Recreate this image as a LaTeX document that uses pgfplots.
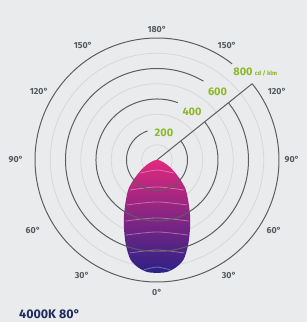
\documentclass[border=0pt]{standalone}
\usepackage{pgfplots}
\pgfplotsset{compat=1.18}
\usepackage{fontspec}
\setmainfont{Fira Sans}
\definecolor{bg}{HTML}{E9EBED}
\definecolor{ring}{HTML}{5C5E60}
\definecolor{lring}{HTML}{D6D8DA}
\definecolor{grn}{HTML}{8CB828}
\definecolor{lab}{HTML}{55595D}
\definecolor{navy}{HTML}{1F2A5E}
\definecolor{mag}{HTML}{E2287E}
\definecolor{mid}{HTML}{A52A8C}
\definecolor{ind}{HTML}{2A2286}
\begin{document}
\begin{tikzpicture}[x=1pt,y=1pt]
\useasboundingbox (0,0) rectangle (307,322);
\clip (0,0) rectangle (307,322);
\fill[bg] (0,0) rectangle (307,322);
\begin{axis}[
  at={(0pt,0pt)}, anchor=south west,
  x=0.1525pt, y=0.1525pt,
  xmin=-1029.5, xmax=983.6, ymin=-1062.3, ymax=1049.2,
  hide axis, clip=false,
]
% light rings
\foreach \r in {100,300,500,700} {
  \edef\tmp{\noexpand\draw[lring, line width=0.8pt] (axis cs:0,0) circle[radius=\r];}
  \tmp
}
% lobe
\addplot[draw=none, top color=mag, middle color=mid, bottom color=ind, data cs=polar, smooth, tension=0.5]
coordinates {
(180,0) (190,18) (200,48) (205,72) (210,105) (215,145) (220,200) (225,262) (230,310) (235,365) (240,435) (245,510) (250,595) (255,675) (260,715) (265,737) (270,740)
(275,737) (280,715) (285,675) (290,595) (295,510) (300,435) (305,365) (310,310) (315,262) (320,200) (325,145) (330,105) (335,72) (340,48) (350,18) (360,0)
} -- cycle;
% lines inside lobe
\addplot[white, opacity=0.35, line width=0.8pt, smooth] coordinates {(-110,-86) (0,-66) (110,-86)};
\addplot[white, opacity=0.35, line width=0.8pt, smooth] coordinates {(-178,-197) (0,-177) (178,-197)};
\addplot[white, opacity=0.35, line width=0.8pt, smooth] coordinates {(-198,-295) (0,-275) (198,-295)};
\addplot[white, opacity=0.35, line width=0.8pt, smooth] coordinates {(-207,-400) (0,-380) (207,-400)};
\addplot[white, opacity=0.35, line width=0.8pt, smooth] coordinates {(-202,-492) (0,-472) (202,-492)};
\addplot[white, opacity=0.35, line width=0.8pt, smooth] coordinates {(-180,-610) (0,-590) (180,-610)};
\addplot[white, opacity=0.35, line width=0.8pt, smooth] coordinates {(-85,-720) (0,-702) (85,-720)};
% dark rings (arcs)
\draw[ring, line width=1pt] (axis cs:0,0) ++(52:122pt) arc[start angle=52, end angle=398.7, radius=122pt];
\draw[ring, line width=1pt] (axis cs:0,0) ++(59.5:91.5pt) arc[start angle=59.5, end angle=398.7, radius=91.5pt];
\draw[ring, line width=1pt] (axis cs:0,0) ++(70:61pt) arc[start angle=70, end angle=398.7, radius=61pt];
\draw[ring, line width=1pt] (axis cs:0,0) ++(108:30.5pt) arc[start angle=108, end angle=398.7, radius=30.5pt];
\draw[ring, line width=1pt] (axis cs:0,0) -- ++(38.7:122pt);
% radial labels
\node[grn, font=\bfseries\fontsize{11}{11}\selectfont, anchor=base] at (axis cs:564,551) {800};
\node[grn, font=\bfseries\fontsize{6}{6}\selectfont, anchor=base west, inner sep=0pt] at (axis cs:640,551) {cd / klm};
\node[grn, font=\bfseries\fontsize{11}{11}\selectfont, anchor=base] at (axis cs:397,420) {600};
\node[grn, font=\bfseries\fontsize{11}{11}\selectfont, anchor=base] at (axis cs:230,289) {400};
\node[grn, font=\bfseries\fontsize{11}{11}\selectfont, anchor=base] at (axis cs:46,157) {200};
% angle labels
\begin{scope}[every node/.style={lab, font=\bfseries\fontsize{8.8}{9}\selectfont}]
\node at (axis cs:0,859) {180°};
\node at (axis cs:-485,754) {150°};
\node at (axis cs:459,754) {150°};
\node at (axis cs:-774,452) {120°};
\node at (axis cs:787,452) {120°};
\node at (axis cs:-925,0) {90°};
\node at (axis cs:885,0) {90°};
\node at (axis cs:-813,-459) {60°};
\node at (axis cs:767,-459) {60°};
\node at (axis cs:-492,-754) {30°};
\node at (axis cs:472,-754) {30°};
\node at (axis cs:0,-866) {0°};
\end{scope}
\end{axis}
\node[navy, font=\bfseries\fontsize{12.5}{13}\selectfont, anchor=base west, inner sep=0pt] at (19,3.5) {4000K 80°};
\end{tikzpicture}
\end{document}
